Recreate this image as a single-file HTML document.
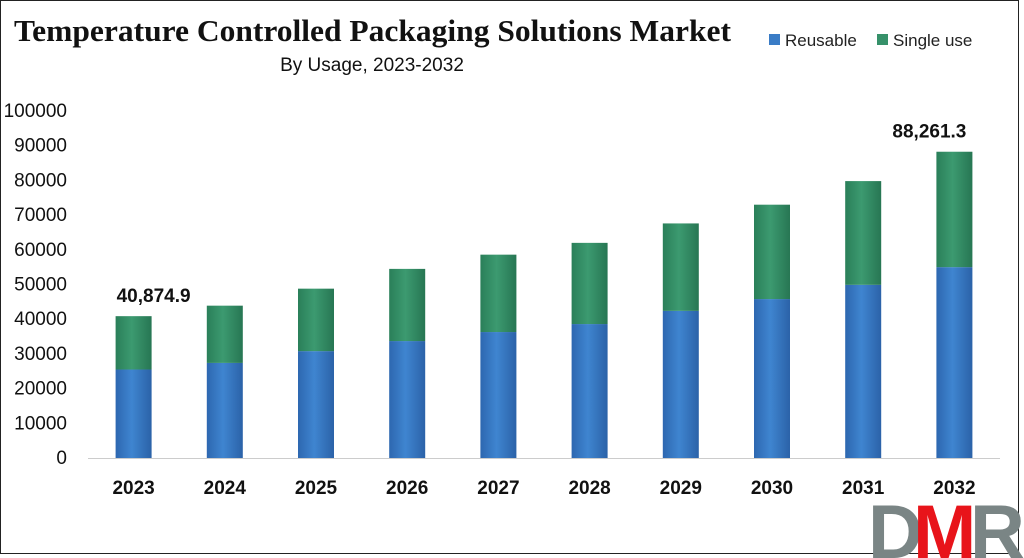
<!DOCTYPE html>
<html><head><meta charset="utf-8"><style>
html,body{margin:0;padding:0;background:#fff;}
svg{display:block;font-family:"Liberation Sans",sans-serif;}
</style></head><body>
<svg id="chart" width="1024" height="558" viewBox="0 0 1024 558">
<defs>
<linearGradient id="gb" x1="0" x2="1"><stop offset="0" stop-color="#2d67b0"/><stop offset="0.45" stop-color="#3f85d0"/><stop offset="1" stop-color="#2b62a8"/></linearGradient>
<linearGradient id="gg" x1="0" x2="1"><stop offset="0" stop-color="#2a7f59"/><stop offset="0.45" stop-color="#3c9a70"/><stop offset="1" stop-color="#277653"/></linearGradient>
</defs>
<rect x="0.5" y="0.5" width="1018" height="553" fill="#fff" stroke="#222" stroke-width="1"/>
<text x="14" y="41" font-family="Liberation Serif, serif" font-weight="bold" font-size="31" textLength="717" lengthAdjust="spacingAndGlyphs" fill="#111">Temperature Controlled Packaging Solutions Market</text>
<text x="372" y="71" font-size="19" fill="#111" text-anchor="middle">By Usage, 2023-2032</text>
<g>
<rect x="769" y="34" width="11" height="11" fill="#3a7cc6"/>
<text x="785" y="46" font-size="17" fill="#222">Reusable</text>
<rect x="877" y="34" width="11" height="11" fill="#36916a"/>
<text x="893" y="46" font-size="17" fill="#222">Single use</text>
</g>
<g id="axes"></g>
<g id="bars"></g>
<g>
<text x="868" y="558" font-size="76" font-weight="bold" fill="#7a8585">D</text>
<text x="913" y="558" font-size="76" font-weight="bold" fill="#e8141a">M</text>
<text x="970" y="558" font-size="76" font-weight="bold" fill="#7a8585">R</text>
</g>
</svg>
<script>
const years = ["2023","2024","2025","2026","2027","2028","2029","2030","2031","2032"];
const reusable = [25500,27400,30800,33700,36300,38600,42400,45800,49900,55000];
const totals = [40874.9,43900,48800,54500,58600,62000,67600,73000,79800,88261.3];
const yTicks = [0,10000,20000,30000,40000,50000,60000,70000,80000,90000,100000];
const labelIdx = [0,9];
const labelText = ["40,874.9","88,261.3"];
const NS="http://www.w3.org/2000/svg";
const y0=458, y1=111, x0=88, x1=1000;
const yS=v=>y0-(v/100000)*(y0-y1);
const bandW=(x1-x0)/years.length;
const xC=i=>x0+bandW*(i+0.5);
const bw=36;
const labelShift=[20,-25];
function mk(t,a,p){const e=document.createElementNS(NS,t);for(const k in a)e.setAttribute(k,a[k]);p.appendChild(e);return e;}
const ax=document.getElementById('axes'), bars=document.getElementById('bars');
yTicks.forEach(v=>{const t=mk('text',{x:67,y:yS(v)+6,'font-size':19,'text-anchor':'end',fill:'#111'},ax);t.textContent=v;

});
const bl=mk('line',{x1:x0,x2:x1,y1:y0+0.5,y2:y0+0.5,stroke:'#ccc'},ax);


years.forEach((yr,i)=>{
 const cx=xC(i), x=cx-bw/2;
 const r=mk('rect',{x:x,y:yS(reusable[i]),width:bw,height:y0-yS(reusable[i]),fill:'url(#gb)'},bars);
 
 
 const g=mk('rect',{x:x,y:yS(totals[i]),width:bw,height:yS(reusable[i])-yS(totals[i]),fill:'url(#gg)'},bars);
 
 
 const t=mk('text',{x:cx,y:494,'font-size':19,'font-weight':'bold','text-anchor':'middle',fill:'#111'},ax);t.textContent=yr;
 
 
});
labelIdx.forEach((idx,k)=>{const t=mk('text',{x:xC(idx)+labelShift[k],y:yS(totals[idx])-14,'font-size':19,'font-weight':'bold','text-anchor':'middle',fill:'#111'},ax);t.textContent=labelText[k];

});
</script>
</body></html>
